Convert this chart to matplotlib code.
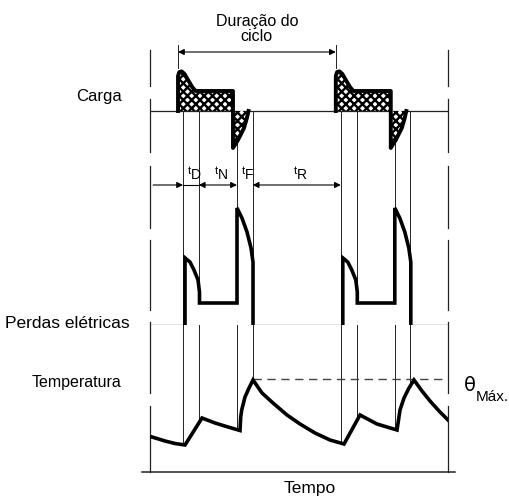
import numpy as np
import matplotlib
matplotlib.use('Agg')
import matplotlib.pyplot as plt

plt.rcParams['font.family'] = ['Liberation Sans', 'DejaVu Sans']
plt.rcParams['hatch.linewidth'] = 1.7

W, H = 510, 498

# duty cycle (s): start, steady run, braking, rest
tD, tN, tF, tR = 6.0, 14.5, 6.0, 33.5
cycle = tD + tN + tF + tR
n_cycles = 2
t_left, t_right = -12.55, 100.76

# load over one cycle (p.u.)
carga_t = [-1.9, -1.9, -1.4, -0.5, 0.6, 1.6, 2.6, 3.6, 4.8, 19.0, 19.0, 19.0, 20.9, 23.2, 24.3, 24.9]
carga_v = [0.0, 1.75, 1.95, 1.98, 1.85, 1.62, 1.4, 1.18, 1.0, 1.0, 0.0, -1.85, -1.45, -0.85, -0.35, 0.0]

# electrical losses over one cycle (p.u.)
perdas_t = [0.76, 0.76, 2.66, 4.18, 5.70, 6.27, 6.27, 20.53, 20.53, 22.43, 24.33, 25.86, 26.62, 26.62]
perdas_v = [0.0, 3.05, 2.86, 2.5, 2.05, 1.5, 1.0, 1.0, 5.32, 4.86, 4.23, 3.5, 2.86, 0.0]

# winding temperature
temp_t = [-11.79, -6.84, -3.04, 0.76, 7.22, 12.17, 17.11, 21.67, 21.94, 22.32, 23.57, 25.10, 26.62,
          30.04, 34.22, 39.54, 44.49, 50.19, 55.89, 61.22, 67.30, 73.76, 81.37, 81.94, 82.51, 84.03,
          85.93, 87.83, 90.87, 93.92, 97.72, 100.76]
temp_v = [35, 31, 28.5, 27, 54, 49, 45, 41.5, 55, 62, 75, 84, 92,
          79, 69, 57, 48, 39, 32, 28, 57, 48, 42, 52, 62, 74,
          84, 92, 81, 71, 60, 52]
theta_max = max(temp_v)

fig = plt.figure(figsize=(W / 100, H / 100), dpi=100)


def px_axes(x0, y0, x1, y1):
    ax = fig.add_axes([x0 / W, 1 - y1 / H, (x1 - x0) / W, (y1 - y0) / H])
    ax.set_axis_off()
    ax.patch.set_visible(False)
    return ax


frame = px_axes(0, 0, W, H)
frame.set_xlim(0, W)
frame.set_ylim(H, 0)

ax_c = px_axes(150, 40, 448, 165)
ax_c.set_ylim(-2.7, 3.55)
ax_p = px_axes(150, 165, 448, 325)
ax_p.set_ylim(0, 160 / 22)
ax_t = px_axes(150, 325, 448, 472)
ax_t.set_ylim(0, 147)
for ax in (ax_c, ax_p, ax_t):
    ax.set_xlim(t_left, t_right)

thin = dict(color='#222222', lw=0.7)

# side borders (broken as in print) and time axis
gaps = [(86, 99), (152, 166), (228, 240), (310, 322), (393, 406)]
edges = [50] + [g for gp in gaps for g in gp] + [472]
for x in (150, 448):
    for y0, y1 in zip(edges[::2], edges[1::2]):
        frame.plot([x, x], [y0, y1], color='#222222', lw=0.9)
frame.plot([142, 455], [472, 472], color='#222222', lw=1.1)

# baselines
ax_c.plot([t_left, t_right], [0, 0], color='#222222', lw=0.9, zorder=2)
ax_p.plot([t_left, t_right], [0, 0], color='#222222', lw=0.9, zorder=2)

# guide lines at the phase boundaries
offsets = [0, tD, tD + tN, tD + tN + tF]
for k in range(n_cycles):
    for g in offsets:
        tg = k * cycle + g
        ax_c.plot([tg, tg], [0, -2.7], zorder=1, **thin)
        ax_p.plot([tg, tg], [0, 160 / 22], zorder=1, **thin)
        ax_t.plot([tg, tg], [np.interp(tg, temp_t, temp_v), 147], zorder=1, **thin)

# load and losses
for k in range(n_cycles):
    tc = np.array(carga_t) + k * cycle
    ax_c.fill(tc, carga_v, facecolor='white', edgecolor='black', hatch='xxxx', lw=0, zorder=3)
    ax_c.plot(tc, carga_v, color='black', lw=2.8, zorder=4, solid_joinstyle='round')
    tp = np.array(perdas_t) + k * cycle
    ax_p.fill(tp, perdas_v, facecolor='white', lw=0, zorder=3)
    ax_p.plot(tp, perdas_v, color='black', lw=2.6, zorder=4, solid_joinstyle='miter')

# temperature
ax_t.plot(temp_t, temp_v, color='black', lw=2.6, solid_joinstyle='miter', zorder=4)
peak_t = temp_t[temp_v.index(theta_max)]
ax_t.plot([peak_t, t_right], [theta_max + 1.5, theta_max + 1.5], color='#444444', lw=1.0,
          dashes=(6, 4), zorder=3)

# cycle length arrow
c0 = carga_t[0]
arr = dict(color='black', lw=0.8, shrinkA=0, shrinkB=0, mutation_scale=9)
ax_c.annotate('', xy=(c0 + cycle, 2.95), xytext=(c0, 2.95), arrowprops=dict(arrowstyle='<|-|>', **arr))
for x in (c0, c0 + cycle):
    ax_c.plot([x, x], [2.15, 3.3], **thin)
ax_c.text(c0 + cycle / 2, 3.35, 'Duração do\nciclo', ha='center', va='bottom', fontsize=11.5,
          linespacing=1.0)

# phase duration arrows
ya = (325 - 185) / 22
ax_p.annotate('', xy=(0, ya), xytext=(t_left + 1.2, ya), arrowprops=dict(arrowstyle='-|>', **arr))
ax_p.plot([0, tD], [ya, ya], color='black', lw=0.8)
ax_p.annotate('', xy=(tD + tN, ya), xytext=(tD, ya), arrowprops=dict(arrowstyle='<|-|>', **arr))
ax_p.annotate('', xy=(cycle, ya), xytext=(tD + tN + tF, ya), arrowprops=dict(arrowstyle='<|-|>', **arr))

yl = (325 - 182) / 22
for (a, b), sub in zip([(0, tD), (tD, tD + tN), (tD + tN, tD + tN + tF), (tD + tN + tF, cycle)],
                       ['D', 'N', 'F', 'R']):
    xm = (a + b) / 2
    ax_p.text(xm, yl + 0.25, 't', ha='right', va='bottom', fontsize=8)
    ax_p.text(xm, yl, sub, ha='left', va='bottom', fontsize=10)

# labels
frame.text(122, 96, 'Carga', ha='right', va='center', fontsize=12)
frame.text(130, 323, 'Perdas elétricas', ha='right', va='center', fontsize=12.5)
frame.text(121, 382, 'Temperatura', ha='right', va='center', fontsize=11.5)
frame.text(310, 488, 'Tempo', ha='center', va='center', fontsize=12.5)
frame.text(464, 385, 'θ', ha='left', va='center', fontsize=14, family='DejaVu Sans')
frame.text(476, 397, 'Máx.', ha='left', va='center', fontsize=11)

fig.savefig('out.png', dpi=100)
